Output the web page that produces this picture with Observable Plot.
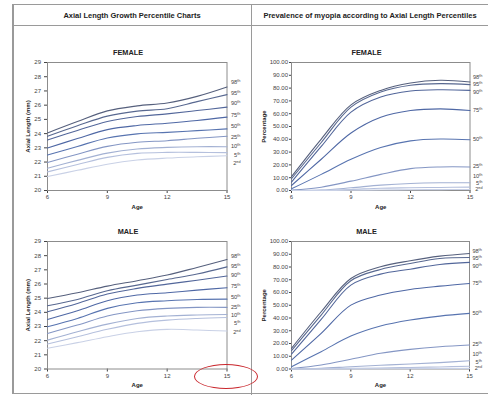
<!DOCTYPE html>
<html><head><meta charset="utf-8">
<script src="https://cdn.jsdelivr.net/npm/d3@7"></script>
<script src="https://cdn.jsdelivr.net/npm/@observablehq/plot@0.6"></script>
<style>
body{margin:0;background:#fff;}
#wrap{position:relative;width:488px;height:395px;overflow:hidden;background:#fff;font-family:"Liberation Sans",Arial,sans-serif;}
.pl{position:absolute;}
.ttl{position:absolute;font-weight:bold;color:#222;transform:translateX(-50%);white-space:nowrap;line-height:1;}
.ln{position:absolute;background:#9a9a9a;}
</style></head><body><div id="wrap"></div>
<script>
const ages = [6, 7.5, 9, 10.5, 12, 13.5, 15];
const percentiles = ["98th","95th","90th","75th","50th","25th","10th","5th","2nd"];
const pctLabels = ["98ᵗʰ","95ᵗʰ","90ᵗʰ","75ᵗʰ","50ᵗʰ","25ᵗʰ","10ᵗʰ","5ᵗʰ","2ⁿᵈ"];
const lineColors = ["#56607d","#586890","#52669a","#4f68a5","#5874b0","#8496c4","#a3b1d3","#b5c0dd","#c9d1e6"];

const axialTicks = [20,21,22,23,24,25,26,27,28,29];
const prevTicks = [0,10,20,30,40,50,60,70,80,90,100];
const ageTicks = [6,9,12,15];

// rows: one per percentile (98th ... 2nd), columns: ages
const femaleAxial = [
  [24.05, 24.85, 25.60, 25.95, 26.15, 26.62, 27.28],
  [23.81, 24.55, 25.23, 25.58, 25.75, 26.25, 26.74],
  [23.55, 24.22, 24.85, 25.20, 25.39, 25.62, 25.86],
  [22.99, 23.65, 24.28, 24.57, 24.73, 24.92, 25.16],
  [22.49, 23.10, 23.69, 23.98, 24.09, 24.21, 24.33],
  [21.97, 22.55, 23.10, 23.39, 23.50, 23.67, 23.81],
  [21.57, 22.12, 22.63, 22.92, 23.03, 23.08, 23.08],
  [21.31, 21.83, 22.33, 22.61, 22.68, 22.68, 22.66],
  [20.98, 21.42, 21.85, 22.14, 22.28, 22.37, 22.44]
];
const maleAxial = [
  [24.98, 25.38, 25.85, 26.23, 26.63, 27.17, 27.73],
  [24.46, 24.91, 25.52, 25.92, 26.32, 26.70, 27.21],
  [24.04, 24.63, 25.29, 25.69, 25.99, 26.27, 26.56],
  [23.50, 24.11, 24.82, 25.22, 25.38, 25.57, 25.73],
  [22.98, 23.57, 24.28, 24.68, 24.82, 24.91, 24.93],
  [22.51, 23.10, 23.74, 24.11, 24.28, 24.35, 24.35],
  [22.04, 22.63, 23.17, 23.57, 23.74, 23.81, 23.85],
  [21.76, 22.28, 22.80, 23.22, 23.45, 23.57, 23.64],
  [21.46, 21.86, 22.28, 22.63, 22.80, 22.75, 22.68]
];
const femalePrev = [
  [10.8, 40.2, 66.9, 78.2, 84.0, 86.1, 84.8],
  [9.2, 37.5, 65.1, 76.9, 82.2, 83.5, 82.7],
  [6.6, 34.4, 61.2, 73.0, 77.7, 78.7, 78.2],
  [3.9, 24.4, 44.9, 57.2, 62.5, 63.8, 62.5],
  [1.3, 12.6, 24.4, 33.6, 38.8, 40.2, 39.6],
  [0.3, 2.6, 7.3, 12.6, 17.1, 18.4, 18.4],
  [0.0, 0.3, 2.1, 4.2, 5.5, 6.0, 6.0],
  [0.0, 0.1, 0.8, 1.8, 2.1, 2.4, 2.6],
  [0.0, 0.05, 0.2, 0.4, 0.6, 0.7, 0.8]
];
const malePrev = [
  [16.2, 44.9, 71.0, 80.2, 84.9, 88.5, 90.6],
  [14.4, 42.3, 69.2, 78.1, 82.8, 86.7, 87.5],
  [11.7, 38.9, 65.8, 74.4, 78.3, 82.0, 83.6],
  [7.0, 27.9, 50.1, 58.0, 62.4, 65.0, 67.1],
  [1.8, 13.6, 25.8, 33.7, 38.4, 41.5, 43.6],
  [0.3, 3.1, 7.6, 12.3, 15.4, 17.5, 18.8],
  [0.0, 0.5, 1.8, 2.9, 3.9, 5.0, 6.5],
  [0.0, 0.2, 0.5, 0.8, 1.2, 1.6, 2.2],
  [0.0, 0.05, 0.1, 0.2, 0.3, 0.4, 0.5]
];
// vertical positions (data units) of the percentile labels at the right edge
const femaleAxialLabelY = [27.58, 26.85, 26.15, 25.27, 24.52, 23.74, 23.08, 22.51, 21.92];
const maleAxialLabelY = [27.99, 27.28, 26.63, 25.85, 25.05, 24.39, 23.81, 23.22, 22.58];
const femalePrevLabelY = [88.2, 82.7, 76.9, 62.5, 40.2, 18.6, 11.3, 6.0, 0.8];
const malePrevLabelY = [92.7, 86.7, 80.7, 67.1, 44.1, 19.6, 11.5, 5.7, 0.5];

const wrap = document.getElementById("wrap");
function add(el){ wrap.appendChild(el); return el; }
function box(l,t,w,h){ const d=document.createElement("div"); d.className="ln"; Object.assign(d.style,{left:l+"px",top:t+"px",width:w+"px",height:h+"px"}); return add(d); }
function title(txt,cx,top,size){ const d=document.createElement("div"); d.className="ttl"; d.textContent=txt; Object.assign(d.style,{left:cx+"px",top:top+"px",fontSize:size+"px"}); return add(d); }

// frame lines of the table
box(12, 4, 476, 1);
box(12, 4, 1.5, 389);
box(12, 392.5, 476, 1);
box(250.5, 4, 1, 391);
box(12, 25, 476, 1);

title("Axial Length Growth Percentile Charts", 132, 12, 7.5);
title("Prevalence of myopia according to Axial Length Percentiles", 370, 12, 7.5);
title("FEMALE", 128, 48.5, 7.3);
title("FEMALE", 366.5, 48.5, 7.3);
title("MALE", 128, 227.5, 7.3);
title("MALE", 366.5, 227.5, 7.3);

function panel(o){
  const data = o.rows.flatMap((r,i)=>r.map((v,j)=>({age:ages[j], value:v, pct:percentiles[i]})));
  const labs = percentiles.map((p,i)=>({pct:p, y:o.labelY[i], t:pctLabels[i]}));
  const svg = Plot.plot({
    width:o.width, height:o.height,
    marginLeft:o.ml, marginRight:o.mr, marginTop:o.mt, marginBottom:o.mb,
    style:{fontFamily:"Liberation Sans, Arial, sans-serif", fontSize:"6px", color:"#444", background:"transparent", overflow:"visible"},
    x:{domain:[6,15], ticks:ageTicks, label:"Age", labelAnchor:"center", labelArrow:"none", tickSize:3, tickPadding:1.5, labelOffset:18},
    y:{domain:o.yDomain, ticks:o.yTicks, tickFormat:o.yFormat, label:o.yLabel, labelAnchor:"center", labelArrow:"none", tickSize:o.ts, tickPadding:o.tp, labelOffset:o.lo},
    color:{domain:percentiles, range:lineColors},
    marks:[
      Plot.frame({stroke:"#8c8c8c"}),
      Plot.line(data, {x:"age", y:"value", z:"pct", stroke:"pct", curve:"catmull-rom", strokeWidth:1.1}),
      Plot.text(labs, {x:15, y:"y", text:"t", textAnchor:"end", dx:o.ldx, fill:"#444", fontSize:5.6})
    ]
  });
  svg.classList.add("pl");
  Object.assign(svg.style,{left:o.left+"px", top:o.top+"px", position:"absolute"});
  d3.select(svg).selectAll('g[aria-label="x-axis label"] text, g[aria-label="y-axis label"] text')
    .attr("font-weight","bold").attr("fill","#222")
    .each(function(){ const t=d3.select(this); t.text(t.text().replace(/[\u2191\u2192\u2190\u2193]/g,"").trim()); });
  add(svg);
}

const fmtInt = d=>String(d);
const fmt2 = d3.format(".2f");
panel({left:12, top:50, width:238, height:162, ml:35, mr:23.5, mt:12, mb:22, yDomain:[20,29], yTicks:axialTicks, yFormat:fmtInt, yLabel:"Axial Length (mm)", ts:3, tp:3.5, lo:22, rows:femaleAxial, labelY:femaleAxialLabelY, ldx:13.5});
panel({left:12, top:229, width:238, height:162, ml:35, mr:23.5, mt:12, mb:22.5, yDomain:[20,29], yTicks:axialTicks, yFormat:fmtInt, yLabel:"Axial Length (mm)", ts:3, tp:3.5, lo:22, rows:maleAxial, labelY:maleAxialLabelY, ldx:13.5});
panel({left:251, top:50, width:237, height:162, ml:40, mr:18.5, mt:12, mb:22, yDomain:[0,100], yTicks:prevTicks, yFormat:fmt2, yLabel:"Percentage", ts:2, tp:1.5, lo:30, rows:femalePrev, labelY:femalePrevLabelY, ldx:12.5});
panel({left:251, top:229, width:237, height:162, ml:40, mr:19, mt:12, mb:22.5, yDomain:[0,100], yTicks:prevTicks, yFormat:fmt2, yLabel:"Percentage", ts:2, tp:1.5, lo:30, rows:malePrev, labelY:malePrevLabelY, ldx:12.5});

// red annotation ellipse around the last age tick of the male axial-length chart
const ell = document.createElement("div");
Object.assign(ell.style,{position:"absolute", left:"194px", top:"364px", width:"64px", height:"25px", border:"1.5px solid #c9262c", borderRadius:"50%", boxSizing:"border-box"});
add(ell);
</script></body></html>
